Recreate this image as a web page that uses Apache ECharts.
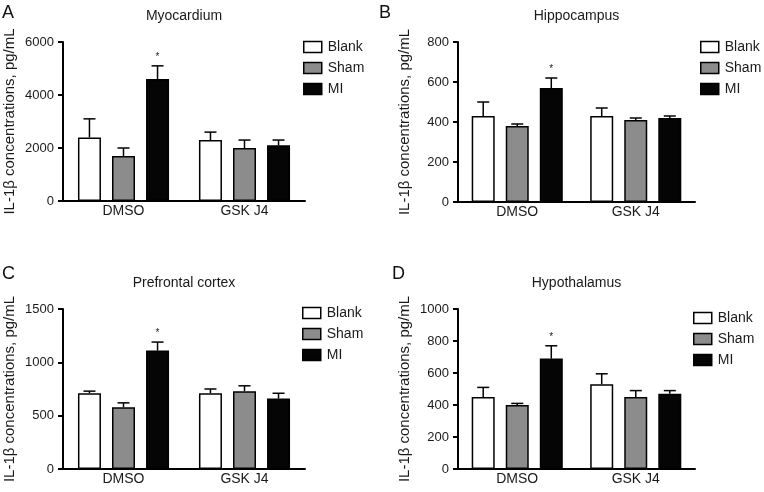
<!DOCTYPE html>
<html>
<head>
<meta charset="utf-8">
<script src="https://cdn.jsdelivr.net/npm/echarts@6/dist/echarts.min.js"></script>
<style>html,body{margin:0;padding:0;background:#fff;}#c{width:764px;height:492px;}</style>
</head>
<body>
<div id="c"></div>
<script>
// ---- data ----
const categories = ['DMSO', 'GSK J4'];
const groups = ['Blank', 'Sham', 'MI'];
const panelTitles = ['Myocardium', 'Hippocampus', 'Prefrontal cortex', 'Hypothalamus'];
const panelLetters = ['A', 'B', 'C', 'D'];
const yMax = [6000, 800, 1500, 1000];
const yInterval = [2000, 200, 500, 200];
const yAxisName = 'IL-1\u03b2 concentrations, pg/mL';

// means [DMSO, GSK J4]
const myoBlank = [2400, 2300], myoSham = [1700, 2000], myoMI = [4600, 2100];
const myoBlankErr = [700, 300], myoShamErr = [300, 300], myoMIErr = [500, 200];

const hipBlank = [430, 430], hipSham = [380, 410], hipMI = [570, 420];
const hipBlankErr = [70, 40], hipShamErr = [10, 10], hipMIErr = [50, 10];

const pfcBlank = [710, 710], pfcSham = [580, 730], pfcMI = [1110, 660];
const pfcBlankErr = [20, 40], pfcShamErr = [40, 50], pfcMIErr = [80, 50];

const hypBlank = [450, 530], hypSham = [400, 450], hypMI = [690, 470];
const hypBlankErr = [60, 65], hypShamErr = [10, 40], hypMIErr = [80, 20];

// significance stars: [categoryIndex, groupIndex]
const stars = [[0, 2]];

const means = [[myoBlank, myoSham, myoMI], [hipBlank, hipSham, hipMI], [pfcBlank, pfcSham, pfcMI], [hypBlank, hypSham, hypMI]];
const errs = [[myoBlankErr, myoShamErr, myoMIErr], [hipBlankErr, hipShamErr, hipMIErr], [pfcBlankErr, pfcShamErr, pfcMIErr], [hypBlankErr, hypShamErr, hypMIErr]];

// ---- layout / style ----
const FONT = '"Liberation Sans", Arial, Helvetica, sans-serif';
const gridPos = [
  {left: 63, top: 42, width: 242, height: 159},
  {left: 458, top: 42, width: 237, height: 160},
  {left: 63, top: 309, width: 242, height: 160},
  {left: 458, top: 309, width: 237, height: 160}
];
const legendPos = [{left: 303, top: 40}, {left: 700, top: 40}, {left: 302, top: 306}, {left: 693, top: 311}];
const letterPos = [{left: 2, top: 4}, {left: 379, top: 4}, {left: 2, top: 265}, {left: 392, top: 265}];
const titleTop = [9, 9, 276, 276];
const groupColors = ['#ffffff', '#8c8c8c', '#050505'];
const BAR_W = 23, BAR_GAP = 0.48;

const option = {
  animation: false,
  backgroundColor: '#fff',
  textStyle: {fontFamily: FONT},
  title: [],
  legend: [],
  grid: [],
  xAxis: [],
  yAxis: [],
  series: []
};

for (let p = 0; p < 4; p++) {
  const g = gridPos[p];
  option.grid.push({left: g.left, top: g.top, width: g.width, height: g.height, containLabel: false});
  option.title.push({
    text: panelTitles[p], left: g.left + g.width / 2, top: titleTop[p], textAlign: 'center', padding: 0,
    textStyle: {fontFamily: FONT, fontSize: 14, fontWeight: 'normal', color: '#1a1a1a'}
  });
  option.title.push({
    text: panelLetters[p], left: letterPos[p].left, top: letterPos[p].top, padding: 0,
    textStyle: {fontFamily: FONT, fontSize: 18, fontWeight: 'normal', color: '#111'}
  });
  option.legend.push({
    data: groups, orient: 'vertical', left: legendPos[p].left, top: legendPos[p].top, padding: 0,
    icon: 'rect', itemWidth: 18, itemHeight: 11, itemGap: 7, selectedMode: false,
    itemStyle: {borderColor: '#000', borderWidth: 1.5},
    textStyle: {fontFamily: FONT, fontSize: 14, color: '#1a1a1a', padding: [0, 0, 0, 1]}
  });
  option.xAxis.push({
    type: 'category', gridIndex: p, data: categories,
    axisLine: {lineStyle: {color: '#000', width: 2}},
    axisTick: {show: false},
    axisLabel: {fontFamily: FONT, fontSize: 14, color: '#1a1a1a', margin: 3}
  });
  option.yAxis.push({
    type: 'value', gridIndex: p, min: 0, max: yMax[p], interval: yInterval[p],
    name: yAxisName, nameLocation: 'middle', nameGap: 46,
    nameTextStyle: {fontFamily: FONT, fontSize: 15, color: '#1a1a1a'},
    axisLine: {show: true, lineStyle: {color: '#000', width: 2}},
    axisTick: {show: true, length: 5, lineStyle: {color: '#000', width: 2}},
    splitLine: {show: false},
    axisLabel: {fontFamily: FONT, fontSize: 13, color: '#1a1a1a', margin: 9, formatter: v => String(v)}
  });
  for (let k = 0; k < 3; k++) {
    option.series.push({
      type: 'bar', name: groups[k], xAxisIndex: p, yAxisIndex: p,
      data: means[p][k], barWidth: BAR_W, barGap: (BAR_GAP * 100) + '%',
      itemStyle: {color: groupColors[k], borderColor: '#000', borderWidth: 1.5},
      z: 2
    });
  }
  // error bars + stars
  for (let k = 0; k < 3; k++) {
    const data = categories.map((c, i) => {
      const isStar = stars.some(s => s[0] === i && s[1] === k) ? 1 : 0;
      return [i, means[p][k][i], errs[p][k][i], isStar];
    });
    const offset = (k - 1) * BAR_W * (1 + BAR_GAP);
    option.series.push({
      type: 'custom', name: groups[k] + ' err', xAxisIndex: p, yAxisIndex: p,
      data: data, z: 3, silent: true,
      renderItem: function (params, api) {
        const cat = api.value(0), m = api.value(1), e = api.value(2), st = api.value(3);
        const base = api.coord([cat, m]);
        const top = api.coord([cat, m + e]);
        const x = base[0] + offset;
        const children = [
          {type: 'line', shape: {x1: x, y1: base[1], x2: x, y2: top[1]}, style: {stroke: '#000', lineWidth: 1.5}},
          {type: 'line', shape: {x1: x - 6, y1: top[1], x2: x + 6, y2: top[1]}, style: {stroke: '#000', lineWidth: 1.5}}
        ];
        if (st) {
          children.push({type: 'text', style: {text: '*', x: x, y: top[1] - 4, textAlign: 'center', textVerticalAlign: 'bottom', fontSize: 10, fontFamily: FONT, fill: '#222'}});
        }
        return {type: 'group', children: children};
      }
    });
  }
}

const chart = echarts.init(document.getElementById('c'), null, {renderer: 'canvas'});
chart.setOption(option);
</script>
</body>
</html>
